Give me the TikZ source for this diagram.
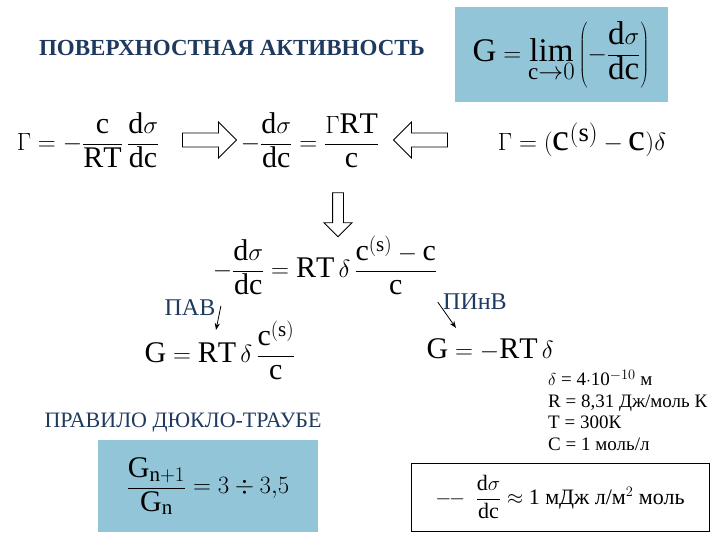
\documentclass[tikz,border=0pt]{standalone}
\usepackage{fontspec}
\setmainfont{Liberation Serif}
\newfontfamily\tnr{Liberation Serif}
\usetikzlibrary{shapes.arrows,arrows.meta}
\definecolor{navy}{HTML}{1F3A5F}
\definecolor{boxblue}{HTML}{92C5D8}
\newcommand{\rd}{\mathrm{d}}
\newcommand{\rc}{\mathrm{c}}
\tikzset{
 ttl/.style={font=\tnr\bfseries\fontsize{23}{26}\selectfont, text=navy},
 fml/.style={font=\fontsize{30}{34}\selectfont},
 blk/.style={single arrow, draw, thick, fill=white, minimum height=54pt, minimum width=36pt, single arrow head extend=7pt, inner sep=4pt},
 ptr/.style={-{Stealth[length=7pt]}, thick}
}
\begin{document}
\begin{tikzpicture}[x=1pt,y=-1pt]
\useasboundingbox (0,0) rectangle (720,540);
\node[ttl] (title) at (232,48) {ПОВЕРХНОСТНАЯ АКТИВНОСТЬ};
\node[fill=boxblue, minimum width=213pt, minimum height=95pt, inner sep=0pt, font=\fontsize{33}{36}\selectfont] (lim) at (561,55) {$\displaystyle \mathrm{G}=\lim_{\rc\to0}\left(-\frac{\rd\sigma}{\rd\rc}\right)$};
\node[fml] (f1) at (88,140) {$\displaystyle \Gamma=-\frac{\rc}{\mathrm{RT}}\,\frac{\rd\sigma}{\rd\rc}$};
\node[fml] (f2) at (310,140) {$\displaystyle -\frac{\rd\sigma}{\rd\rc}=\frac{\Gamma\mathrm{RT}}{\rc}$};
\node[font=\fontsize{38}{42}\selectfont] (f3) at (582,140) {$\Gamma=\Bigl(\rc^{(\mathrm{s})}-\rc\Bigr)\delta$};
\node[blk] (a1) at (206,140) {};
\node[blk, shape border rotate=180] (a2) at (424,140) {};
\node[blk, shape border rotate=270, minimum height=44pt, minimum width=28pt] (a3) at (338,212) {};
\node[fml] (f4) at (325,265) {$\displaystyle -\frac{\rd\sigma}{\rd\rc}=\mathrm{RT}\,\delta\,\frac{\rc^{(\mathrm{s})}-\rc}{\rc}$};
\node[font=\tnr\fontsize{24}{26}\selectfont, text=navy] (pav) at (190,308) {ПАВ};
\node[font=\tnr\fontsize{24}{26}\selectfont, text=navy] (pinv) at (475,302) {ПИнВ};
\node[fml] (f5) at (220,350) {$\displaystyle \mathrm{G}=\mathrm{RT}\,\delta\,\frac{\rc^{(\mathrm{s})}}{\rc}$};
\node[fml] (f6) at (490,350) {$\mathrm{G}=-\mathrm{RT}\,\delta$};
\coordinate (p1) at (216,330);
\coordinate (p2) at (456,328);
\draw[ptr] (pav.east) ++(2,-2) -- (p1);
\draw[ptr] (pinv.west) ++(-2,0) -- (p2);
\node[font=\tnr\fontsize{22}{26}\selectfont, text=navy] (rule) at (183,423) {ПРАВИЛО ДЮКЛО-ТРАУБЕ};
\node[fill=boxblue, minimum width=220pt, minimum height=92pt, inner sep=0pt, fml] (dt) at (208,486) {$\displaystyle \frac{\mathrm{G}_{\mathrm{n}+1}}{\mathrm{G}_{\mathrm{n}}}=3\div3{,}5$};
\node[align=left, anchor=north west, font=\tnr\fontsize{19}{21.5}\selectfont, inner sep=0pt] (cst) at (548,370) {$\delta$ = 4$\cdot$10$^{-10}$ м\\R = 8,31 Дж/моль К\\T = 300К\\C = 1 моль/л};
\node[draw, thick, minimum width=298pt, minimum height=68pt, font=\tnr\fontsize{22}{26}\selectfont] (res) at (560,497) {$\displaystyle -\!\!-\;\frac{\rd\sigma}{\rd\rc}\approx$ 1 мДж л/м$^2$ моль};
\end{tikzpicture}
\end{document}
